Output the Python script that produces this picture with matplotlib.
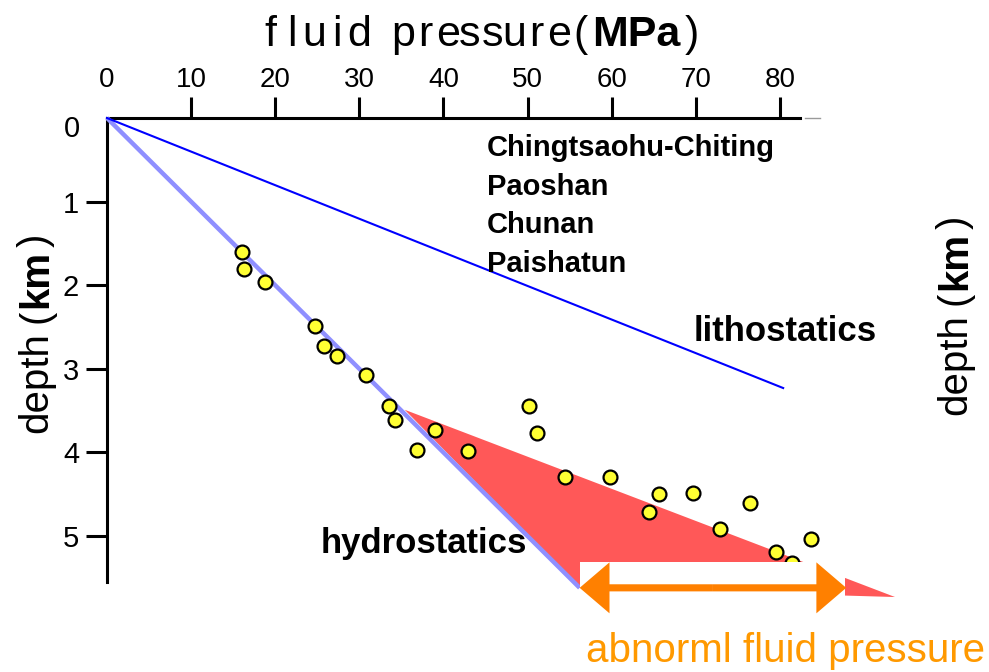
import matplotlib
matplotlib.use("Agg")
import matplotlib.pyplot as plt
from matplotlib.patches import Polygon, Rectangle, FancyArrow

# ---- data -------------------------------------------------------------
pressure_mpa = [16.1, 16.3, 18.8, 24.7, 25.8, 27.4, 30.8, 33.5, 34.2, 39.0,
                36.9, 42.9, 50.2, 51.1, 54.5, 59.8, 65.6, 69.7, 64.5, 76.5,
                72.9, 83.7, 79.5, 81.4]
depth_km = [1.60, 1.81, 1.96, 2.49, 2.73, 2.85, 3.08, 3.44, 3.61, 3.73,
            3.97, 3.98, 3.45, 3.77, 4.29, 4.29, 4.50, 4.49, 4.71, 4.61,
            4.92, 5.03, 5.19, 5.32]

hydro_p = [0.0, 56.2]
hydro_d = [0.0, 5.62]
litho_p = [0.0, 80.4]
litho_d = [0.0, 3.23]

abnormal_p = [35.4, 56.2, 93.7]
abnormal_d = [3.49, 5.62, 5.73]

sites = ["Chingtsaohu-Chiting", "Paoshan", "Chunan", "Paishatun"]

x_ticks = [0, 10, 20, 30, 40, 50, 60, 70, 80]
y_ticks = [1, 2, 3, 4, 5]

NARROW = ["Liberation Sans Narrow", "Liberation Sans"]

# ---- figure -------------------------------------------------------------
W, H = 989, 672
fig = plt.figure(figsize=(W / 100, H / 100), dpi=100)
ax = fig.add_axes([0, 0, 1, 1])

px_per_mpa = 8.41
px_per_km = 83.6
x0_px, y0_px = 107, 118
ax.set_xlim(-x0_px / px_per_mpa, (W - x0_px) / px_per_mpa)
ax.set_ylim((H - y0_px) / px_per_km, -y0_px / px_per_km)

# axes: top and left spines through the origin
for side in ("right", "bottom"):
    ax.spines[side].set_visible(False)
ax.spines["top"].set_position(("data", 0))
ax.spines["left"].set_position(("data", 0))
ax.spines["top"].set_bounds(0, 82.4)
ax.spines["left"].set_bounds(0, 5.55)
for side in ("top", "left"):
    ax.spines[side].set_linewidth(2.2)
    ax.spines[side].set_color("black")
ax.plot([83.0, 84.8], [0, 0], color="#9a9a9a", lw=1.0, zorder=1)

ax.xaxis.set_ticks_position("top")
ax.set_xticks(x_ticks)
ax.set_xticklabels([str(v) for v in x_ticks], family="Liberation Sans",
                   fontsize=20)
ax.tick_params(axis="x", direction="out", length=15, width=2.2, pad=3)
ax.xaxis.get_major_ticks()[0].tick2line.set_visible(False)

ax.yaxis.set_ticks_position("left")
ax.set_yticks(y_ticks)
ax.set_yticklabels([str(v) for v in y_ticks], family="Liberation Sans",
                   fontsize=21)
ax.tick_params(axis="y", direction="out", length=15, width=2.2, pad=5)
ax.text(-3.2, 0.13, "0", family="Liberation Sans", fontsize=21,
        ha="right", va="center")

# ---- marks ----------------------------------------------------------------
ax.add_patch(Polygon(list(zip(abnormal_p, abnormal_d)), closed=True,
                     facecolor="#FF5858", edgecolor="none", zorder=2))
ax.plot(hydro_p, hydro_d, color="#8F8FFF", lw=3.2, zorder=3,
        solid_capstyle="butt")
ax.plot(litho_p, litho_d, color="#0000FF", lw=1.5, zorder=3)
ax.scatter(pressure_mpa, depth_km, s=100, facecolor="#FFFF33",
           edgecolor="black", linewidth=1.6, zorder=4)

# white band under the double arrow
ax.add_patch(Rectangle((56.2, 5.31), 31.5, 0.46, facecolor="white",
                       edgecolor="none", zorder=5))
arrow_left, arrow_right, arrow_d = 56.2, 87.9, 5.62
mid = (arrow_left + arrow_right) / 2
for dx in (arrow_right - mid, arrow_left - mid):
    ax.add_patch(FancyArrow(mid, arrow_d, dx, 0, width=0.085,
                            head_width=0.61, head_length=3.55,
                            length_includes_head=True,
                            facecolor="#FF8000", edgecolor="none", zorder=6))

# ---- labels -----------------------------------------------------------------
for i, name in enumerate(sites):
    ax.text(45.2, 0.455 + 0.463 * i, name, family="Liberation Sans",
            fontweight="bold", fontsize=21, ha="left", va="baseline")
ax.text(69.7, 2.667, "lithostatics", family="Liberation Sans",
        fontweight="bold", fontsize=25, ha="left", va="baseline")
ax.text(25.45, 5.203, "hydrostatics", family="Liberation Sans",
        fontweight="bold", fontsize=25, ha="left", va="baseline", zorder=7)
ax.text(56.9, 6.507, "abnorml fluid pressure", family="Liberation Sans",
        fontsize=29, color="#FF9900", ha="left", va="baseline", zorder=7)

# top axis title: fixed-pitch lettering followed by bold unit
def fig_xy(px, py):
    return px / W, 1 - py / H

base_y = 46
title_main = "fluid pressure("
cell = 22.2
for i, ch in enumerate(title_main):
    if ch == " ":
        continue
    fig.text(*fig_xy(259 + cell * (i + 0.5), base_y), ch,
             family=NARROW, fontsize=31, ha="center", va="baseline")
fig.text(*fig_xy(592, base_y), "MPa", family="Liberation Sans",
         fontweight="bold", fontsize=31, ha="left", va="baseline")
fig.text(*fig_xy(692, base_y), ")", family=NARROW,
         fontsize=31, ha="center", va="baseline")

# vertical depth labels, left and right
def depth_label(base_x, start_y):
    pieces = [("depth", "normal", 0), ("(", "normal", 110),
              ("km", "bold", 125), (")", "normal", 186)]
    for txt, weight, off in pieces:
        fig.text(*fig_xy(base_x, start_y - off), txt, family="Liberation Sans",
                 fontweight=weight, fontsize=29, rotation=90,
                 rotation_mode="anchor", ha="left", va="baseline")

depth_label(47, 433)
depth_label(966, 415)

fig.savefig("out.png", dpi=100)
